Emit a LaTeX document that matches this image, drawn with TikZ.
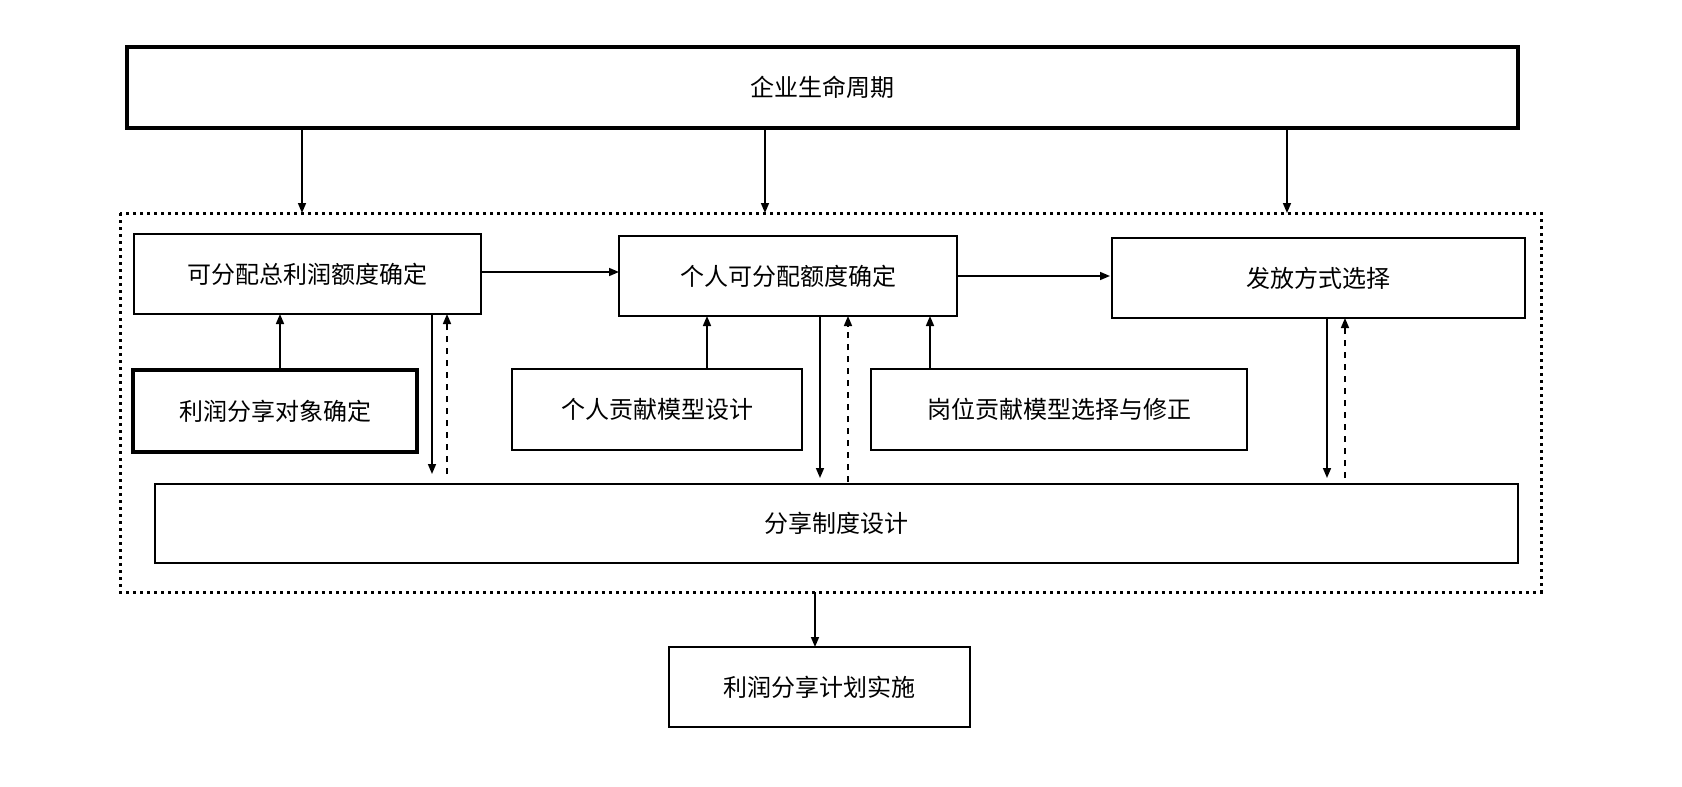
\documentclass[tikz,border=0pt]{standalone}
\usepackage{fontspec}
\setmainfont{Noto Sans CJK SC}
\usetikzlibrary{arrows.meta}
\begin{document}
\begin{tikzpicture}[x=0.5pt,y=-0.5pt,
 box/.style={draw,line width=1pt,inner sep=0pt,font=\fontsize{12}{14}\selectfont},
 thk/.style={line width=2pt},
 arr/.style={-{Triangle[length=5pt,width=4pt]},line width=0.8pt},
 darr/.style={arr,dashed}]
\useasboundingbox (0,0) rectangle (1682,787);
\def\bx#1#2#3#4#5#6#7{\draw[box,#7] (#2,#3) rectangle (#4,#5); \node[font=\fontsize{12}{14}\selectfont] (#1) at ({(#2+#4)/2},{(#3+#5)/2}) {#6};
 \coordinate (#1-n) at ({(#2+#4)/2},#3);}
\draw[box,thk] (127,47) rectangle (1518,128) node[midway,draw=none] (T) {企业生命周期};
\draw[line width=1.5pt,dotted] (120,213) rectangle (1541,592);
\coordinate (K) at (815,592);
\draw[box] (134,234) rectangle (481,314) node[midway,draw=none] (A) {可分配总利润额度确定};
\draw[box] (619,236) rectangle (957,316) node[midway,draw=none] (B) {个人可分配额度确定};
\draw[box] (1112,238) rectangle (1525,318) node[midway,draw=none] (C) {发放方式选择};
\draw[box,thk] (133,370) rectangle (417,452) node[midway,draw=none] (D) {利润分享对象确定};
\draw[box] (512,369) rectangle (802,450) node[midway,draw=none] (E) {个人贡献模型设计};
\draw[box] (871,369) rectangle (1247,450) node[midway,draw=none] (F) {岗位贡献模型选择与修正};
\draw[box] (155,484) rectangle (1518,563) node[midway,draw=none] (G) {分享制度设计};
\draw[box] (669,647) rectangle (970,727) node[midway,draw=none] (H) {利润分享计划实施};
\foreach \x in {302,765,1287} \draw[arr] (\x,128) -- (\x,213);
\draw[arr] (481,272) -- (619,272);
\draw[arr] (957,276) -- (1110,276);
\draw[arr] (280,370) -- (280,314);
\draw[arr] (432,314) -- (432,474);
\draw[darr] (447,474) -- (447,314);
\draw[arr] (707,369) -- (707,316);
\draw[arr] (820,316) -- (820,478);
\draw[darr] (848,482) -- (848,316);
\draw[arr] (930,369) -- (930,316);
\draw[arr] (1327,318) -- (1327,478);
\draw[darr] (1345,478) -- (1345,318);
\draw[arr] (K) -- (815,647);
\end{tikzpicture}
\end{document}
